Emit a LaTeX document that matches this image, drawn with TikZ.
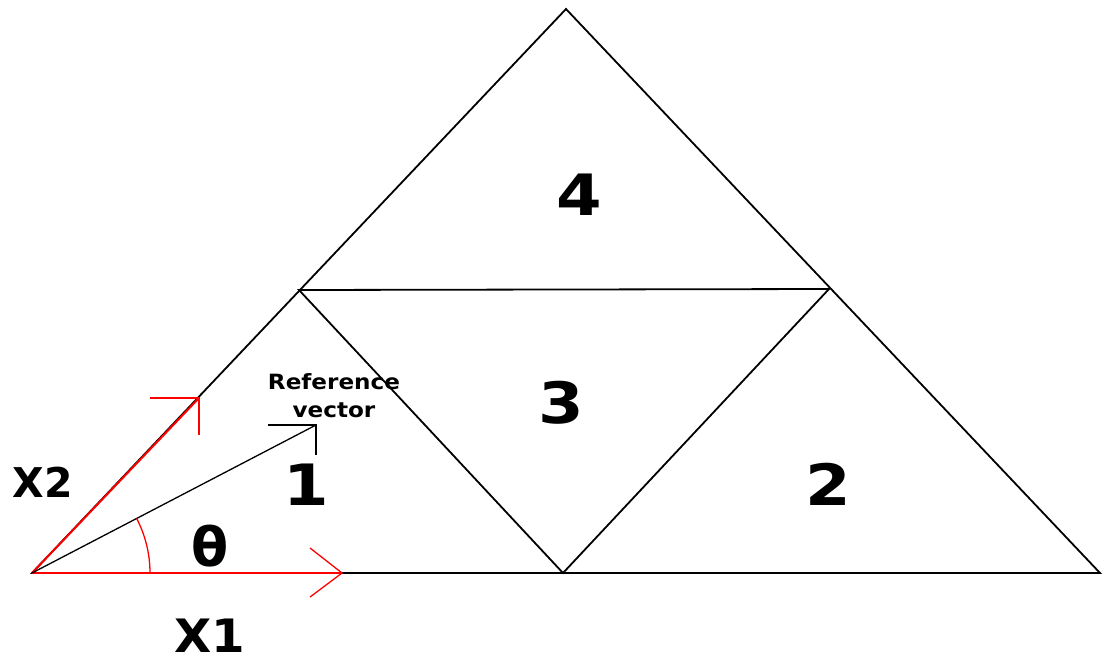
\documentclass[tikz,border=0pt]{standalone}
\usepackage{fontspec}
\setmainfont{DejaVu Sans}
\begin{document}
\begin{tikzpicture}[x=1pt,y=-1pt,
  edge/.style={black,line width=1.8pt},
  redline/.style={red,line width=2pt},
  num/.style={font=\fontsize{57}{60}\selectfont\bfseries,inner sep=0pt,anchor=base,xscale=1.15},
  lab/.style={font=\fontsize{46}{50}\selectfont\bfseries,inner sep=0pt,anchor=base,xscale=1.05}]
\useasboundingbox (0,0) rectangle (1106,664);
% vertices
\coordinate (A) at (32,573);
\coordinate (T) at (566,9);
\coordinate (B) at (1100,573);
\coordinate (L) at (299,290);
\coordinate (R) at (829,289);
\coordinate (M) at (563,573);
% triangles
\draw[edge,line join=miter] (A) -- (T) -- (B) -- cycle;
\draw[edge] (L) -- (R) -- (M) -- cycle;
% numbers
\node[num] (n4) at (579,215) {4};
\node[num] (n3) at (561,423) {3};
\node[num] (n2) at (828,505) {2};
\node[num] (n1) at (306,505) {1};
% X1 axis
\coordinate (X1e) at (342,573);
\coordinate (X1a) at (310,548);
\coordinate (X1b) at (310,597);
\draw[redline] (A) -- (X1e);
\draw[redline,line width=1.3pt] (X1a) -- (X1e) -- (X1b);
% X2 axis
\coordinate (X2e) at (199,398);
\coordinate (X2a) at (150,398);
\coordinate (X2b) at (199,435);
\draw[redline] (A) -- (X2e);
\draw[redline,line width=1.3pt] (X2a) -- (X2e) -- (X2b);
% reference vector
\coordinate (V) at (316,425);
\coordinate (Va) at (268,425);
\coordinate (Vb) at (316,455);
\draw[black,line width=1.3pt] (A) -- (V);
\draw[black,line width=1.3pt] (Va) -- (V) -- (Vb);
% theta arc
\draw[red,line width=1.3pt] (150,573) arc[start angle=0,end angle=-27.5,radius=118];
% labels
\node[font=\fontsize{21}{28}\selectfont\bfseries,align=center,inner sep=0pt,xscale=1.1] (refl) at (334,396) {Reference\\vector};
\node[font=\fontsize{54}{56}\selectfont\bfseries,inner sep=0pt,anchor=base] (th) at (210,566) {θ};
\node[lab] (x1) at (210,652) {X1};
\node[font=\fontsize{41}{44}\selectfont\bfseries,inner sep=0pt,anchor=base] (x2) at (43,497) {X2};
\end{tikzpicture}
\end{document}
